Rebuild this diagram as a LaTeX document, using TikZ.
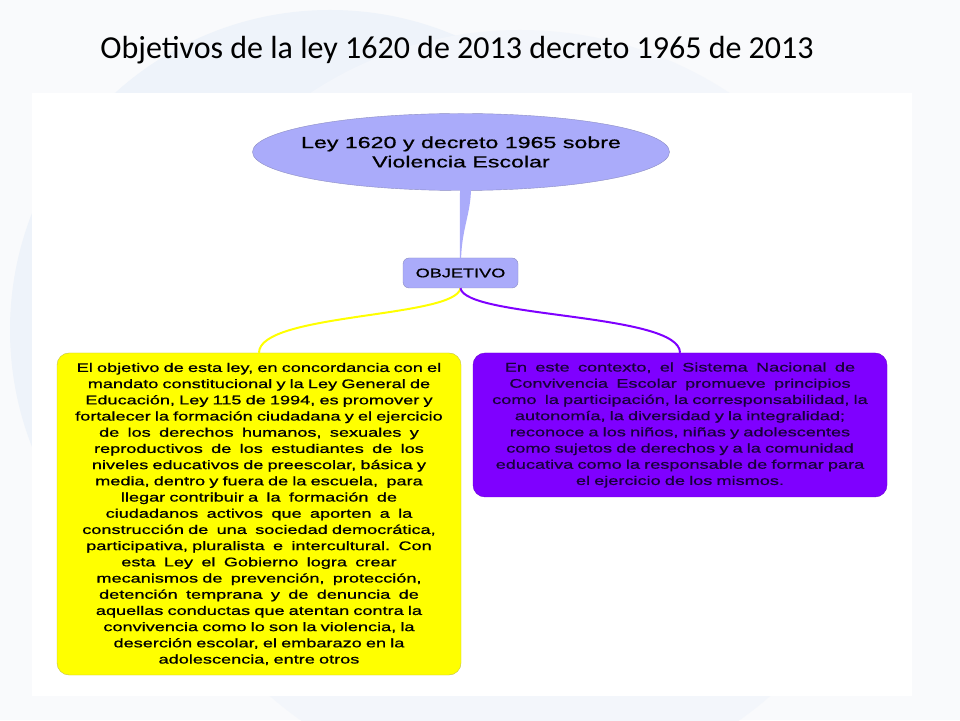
\documentclass[tikz,border=0pt]{standalone}
\usepackage{fontspec}
\setmainfont{Liberation Sans}
\newfontfamily\titlefont{Carlito}
\newfontfamily\mapfont[FakeStretch=1.45,FakeBold=0.8]{Liberation Sans}
\usetikzlibrary{shapes.geometric}
\definecolor{slidebg}{RGB}{249,250,252}
\definecolor{blob}{RGB}{238,243,250}
\definecolor{leyfill}{RGB}{170,171,250}
\definecolor{leydraw}{RGB}{140,141,195}
\definecolor{amarillo}{RGB}{255,255,0}
\definecolor{amarilloborde}{RGB}{195,195,70}
\definecolor{morado}{RGB}{127,0,255}
\definecolor{moradoborde}{RGB}{105,0,210}
\definecolor{moradotexto}{RGB}{25,0,60}
\tikzset{
  raiz/.style={ellipse,fill=leyfill,draw=leydraw,minimum width=417,minimum height=77,
    inner xsep=-20,inner ysep=0,align=center,font=\mapfont\fontsize{16}{19.3}\selectfont},
  rama/.style={rectangle,rounded corners=6,fill=leyfill,draw=leydraw,minimum width=115,
    minimum height=30,font=\mapfont\fontsize{12.5}{15}\selectfont},
  hoja/.style={rectangle,rounded corners=12,text width=396,align=center,inner xsep=4,
    font=\mapfont\fontsize{12.5}{16.2}\selectfont},
  enlace/.style={line width=2}
}
\begin{document}
\begin{tikzpicture}[x=1pt,y=1pt]
\useasboundingbox (0,0) rectangle (960,720);
\clip (0,0) rectangle (960,720);
\fill[slidebg] (0,0) rectangle (960,720);
\fill[blob] (330,390) circle (320);
\fill[blob!60!slidebg] (520,310) circle (380);
\fill[white] (32,24) rectangle (912,627);

\node[anchor=base,font=\titlefont\fontsize{32}{36}\selectfont] (titulo) at (457,661)
  {Objetivos de la ley 1620 de 2013 decreto 1965 de 2013};

\node[raiz] (ley) at (461,568) {Ley 1620 y decreto 1965 sobre\\Violencia Escolar};
\node[rama] (objetivo) at (460.5,447) {OBJETIVO};

\fill[leyfill] ([xshift=-1,yshift=3]ley.south) -- ([xshift=10,yshift=3]ley.south)
  .. controls +(0,-25) and +(1,30) .. ([xshift=0.6]objetivo.north)
  -- ([xshift=-0.6]objetivo.north) -- cycle;

\node[hoja,fill=amarillo,draw=amarilloborde,minimum width=404,minimum height=322] (objley) at (259,206)
  {El objetivo de esta ley, en concordancia con el\\
   mandato constitucional y la Ley General de\\
   Educación, Ley 115 de 1994, es promover y\\
   fortalecer la formación ciudadana y el ejercicio\\
   de\ \ los\ \ derechos\ \ humanos,\ \ sexuales\ \ y\\
   reproductivos\ \ de\ \ los\ \ estudiantes\ \ de\ \ los\\
   niveles educativos de preescolar, básica y\\
   media, dentro y fuera de la escuela,\ \ para\\
   llegar contribuir a\ \ la\ \ formación\ \ de\\
   ciudadanos\ \ activos\ \ que\ \ aporten\ \ a\ \ la\\
   construcción de\ \ una\ \ sociedad democrática,\\
   participativa, pluralista\ \ e\ \ intercultural.\ \ Con\\
   esta\ \ Ley\ \ el\ \ Gobierno\ \ logra\ \ crear\\
   mecanismos de\ \ prevención,\ \ protección,\\
   detención\ \ temprana\ \ y\ \ de\ \ denuncia\ \ de\\
   aquellas conductas que atentan contra la\\
   convivencia como lo son la violencia, la\\
   deserción escolar, el embarazo en la\\
   adolescencia, entre otros};
\node[hoja,fill=morado,draw=moradoborde,text=moradotexto,minimum width=414,minimum height=144] (contexto) at (680,295)
  {En\ \ este\ \ contexto,\ \ el\ \ Sistema\ \ Nacional\ \ de\\
   Convivencia\ \ Escolar\ \ promueve\ \ principios\\
   como\ \ la participación, la corresponsabilidad, la\\
   autonomía, la diversidad y la integralidad;\\
   reconoce a los niños, niñas y adolescentes\\
   como sujetos de derechos y a la comunidad\\
   educativa como la responsable de formar para\\
   el ejercicio de los mismos.};

\draw[enlace,amarillo] (objetivo.south) .. controls +(-5,-30) and +(0,40) .. (objley.north);
\draw[enlace,morado] (objetivo.south) .. controls +(5,-30) and +(0,40) .. (contexto.north);
\end{tikzpicture}
\end{document}
